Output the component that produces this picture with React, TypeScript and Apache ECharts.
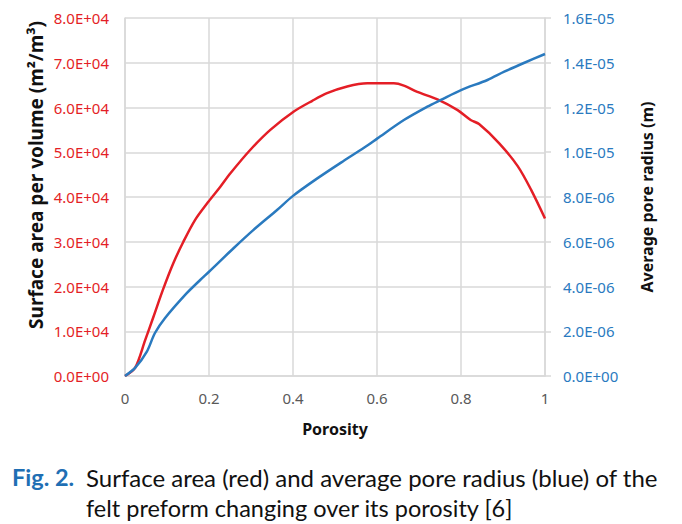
import React, { useEffect, useRef } from "react";
import * as echarts from "echarts";

const porosityRed = [0, 0.024, 0.048, 0.068, 0.09, 0.115, 0.139, 0.167, 0.199, 0.227, 0.251, 0.298, 0.346, 0.402, 0.446, 0.481, 0.529, 0.577, 0.64, 0.664, 0.696, 0.744, 0.792, 0.823, 0.843, 0.891, 0.935, 0.967, 1.0];
const surfaceArea = [0, 1800, 8000, 13300, 19200, 25200, 30000, 34900, 39000, 42300, 45300, 50500, 55000, 59100, 61500, 63200, 64700, 65400, 65400, 64900, 63500, 61800, 59400, 57200, 56300, 52000, 46900, 41600, 35200];

const porosityBlue = [0, 0.024, 0.052, 0.071, 0.095, 0.147, 0.179, 0.2, 0.259, 0.306, 0.362, 0.4, 0.457, 0.521, 0.577, 0.601, 0.664, 0.72, 0.752, 0.8, 0.863, 0.903, 0.951, 1.0];
const poreRadius = [0, 0.36e-6, 1.09e-6, 1.91e-6, 2.58e-6, 3.7e-6, 4.29e-6, 4.66e-6, 5.72e-6, 6.53e-6, 7.42e-6, 8.05e-6, 8.82e-6, 9.62e-6, 10.3e-6, 10.62e-6, 11.44e-6, 12.04e-6, 12.34e-6, 12.78e-6, 13.23e-6, 13.6e-6, 14.0e-6, 14.39e-6];

const xTicks = ["0", "0.2", "0.4", "0.6", "0.8", "1"];

const RED = "#e41e26";
const BLUE = "#2a7abf";
const GRID = "#d9d9d9";

function sci(v: number): string {
  const s = v.toExponential(1);
  const [m, e] = s.split("e");
  const sign = e[0] === "-" ? "-" : "+";
  const digits = e.replace(/[+-]/, "").padStart(2, "0");
  return `${m}E${sign}${digits}`;
}

export default function App() {
  const ref = useRef<HTMLDivElement>(null);
  useEffect(() => {
    if (!ref.current) return;
    const chart = echarts.init(ref.current, null, { renderer: "svg" });
    const font = "Noto Sans";
    chart.setOption({
      animation: false,
      backgroundColor: "#ffffff",
      grid: { left: 125, right: 137, top: 18, bottom: 148, containLabel: false },
      xAxis: {
        type: "value",
        min: 0,
        max: 1,
        interval: 0.2,
        axisLine: { show: true, lineStyle: { color: GRID, width: 1.5 } },
        axisTick: { show: false },
        axisLabel: {
          color: "#595959",
          fontFamily: font,
          fontSize: 15,
          margin: 14,
          formatter: (v: number) => xTicks[Math.round(v / 0.2)] ?? "",
        },
        splitLine: { show: true, lineStyle: { color: GRID, width: 1.5 } },
      },
      yAxis: [
        {
          type: "value",
          min: 0,
          max: 80000,
          interval: 10000,
          position: "left",
          axisLine: { show: true, lineStyle: { color: GRID, width: 1.5 } },
          axisTick: { show: false },
          axisLabel: { color: RED, fontFamily: font, fontSize: 15, margin: 16, formatter: (v: number) => sci(v) },
          splitLine: { show: true, lineStyle: { color: GRID, width: 1.5 } },
        },
        {
          type: "value",
          min: 0,
          max: 1.6e-5,
          interval: 2e-6,
          position: "right",
          axisLine: { show: true, lineStyle: { color: GRID, width: 1.5 } },
          axisTick: { show: true, inside: false, length: 6, lineStyle: { color: GRID, width: 1.5 } },
          axisLabel: { color: BLUE, fontFamily: font, fontSize: 15, margin: 18, formatter: (v: number) => sci(v) },
          splitLine: { show: false },
        },
      ],
      series: [
        {
          type: "line",
          yAxisIndex: 0,
          data: porosityRed.map((x, i) => [x, surfaceArea[i]]),
          showSymbol: false,
          smooth: 0.3,
          lineStyle: { color: RED, width: 2.5 },
          z: 3,
        },
        {
          type: "line",
          yAxisIndex: 1,
          data: porosityBlue.map((x, i) => [x, poreRadius[i]]),
          showSymbol: false,
          smooth: 0.3,
          lineStyle: { color: BLUE, width: 2.5 },
          z: 4,
        },
      ],
      graphic: [
        {
          type: "text",
          x: 36,
          y: 175,
          rotation: Math.PI / 2,
          style: {
            text: "Surface area per volume (m²/m³)",
            fontFamily: font,
            fontWeight: "bold",
            fontSize: 19,
            fill: "#111",
            align: "center",
            verticalAlign: "middle",
          },
        },
        {
          type: "text",
          x: 647,
          y: 197,
          rotation: Math.PI / 2,
          style: {
            text: "Average pore radius (m)",
            fontFamily: font,
            fontWeight: "bold",
            fontSize: 16,
            fill: "#111",
            align: "center",
            verticalAlign: "middle",
          },
        },
        {
          type: "text",
          x: 335,
          y: 429,
          style: {
            text: "Porosity",
            fontFamily: font,
            fontWeight: "bold",
            fontSize: 16,
            fill: "#111",
            align: "center",
            verticalAlign: "middle",
          },
        },
        {
          type: "text",
          x: 12,
          y: 477,
          style: {
            text: "Fig. 2.",
            fontFamily: "Lato",
            fontWeight: "bold",
            fontSize: 23.5,
            fill: "#1f6fb4",
            verticalAlign: "middle",
          },
        },
        {
          type: "text",
          x: 86,
          y: 477,
          style: {
            text: "Surface area (red) and average pore radius (blue) of the",
            fontFamily: "Lato",
            fontSize: 24,
            fill: "#111",
            verticalAlign: "middle",
          },
        },
        {
          type: "text",
          x: 86,
          y: 508,
          style: {
            text: "felt preform changing over its porosity [6]",
            fontFamily: "Lato",
            fontSize: 23.5,
            fill: "#111",
            verticalAlign: "middle",
          },
        },
      ],
    });
    return () => chart.dispose();
  }, []);
  return <div ref={ref} style={{ width: 682, height: 524, position: "absolute", left: 0, top: 0 }} />;
}
